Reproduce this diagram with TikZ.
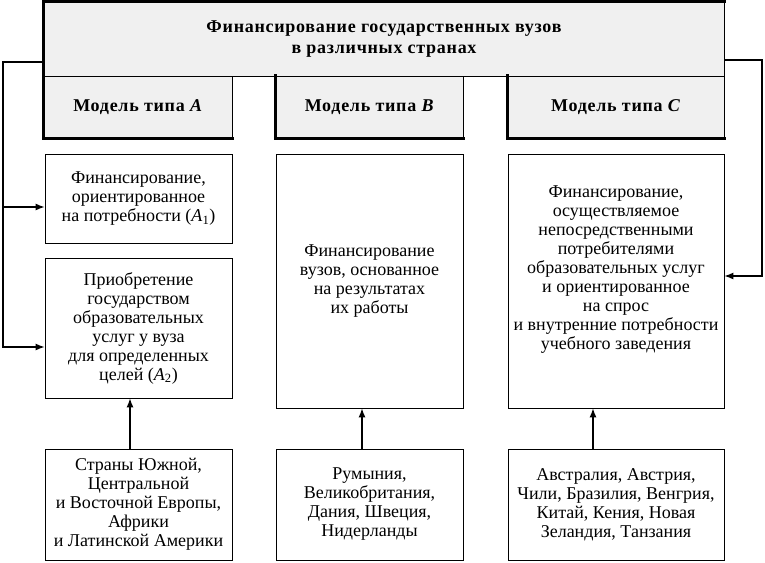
\documentclass[tikz,border=0pt]{standalone}
\usepackage{fontspec}
\setmainfont{Liberation Serif}
\newfontfamily\boldsp{Liberation Serif}[LetterSpace=4]
\usetikzlibrary{arrows.meta}
\definecolor{boxgray}{RGB}{240,240,240}
\begin{document}
\begin{tikzpicture}[x=1pt,y=-1pt,
  box/.style={draw, line width=0.8pt, inner sep=0pt, align=center,
    font=\fontsize{18}{19}\selectfont},
  head/.style={box, fill=boxgray, font=\boldsp\bfseries\fontsize{18}{21}\selectfont},
  txt/.style={inner sep=0pt, align=center, font=\fontsize{18}{19}\selectfont},
  heavy/.style={line width=2.6pt, line cap=rect},
  conn/.style={line width=1.2pt},
  arr/.style={conn, -{Latex[length=9pt,width=7pt]}}]
\useasboundingbox (0,0) rectangle (765,562);
% header
\node[head, minimum width=680pt, minimum height=74pt] (t) at (384,39)
  {Финансирование государственных вузов\\в различных странах};
\draw[heavy] (t.south west) -- (t.north west) -- (t.north east);
% models
\node[head, minimum width=188pt, minimum height=62pt] (mA) at (138,107) {Модель типа \textit{A}};
\node[head, minimum width=187pt, minimum height=62pt] (mB) at (369.5,107) {Модель типа \textit{B}};
\node[head, minimum width=216pt, minimum height=62pt] (mC) at (616,107) {Модель типа \textit{C}};
\foreach \m in {mA,mB,mC}
  \draw[heavy] (\m.north west) -- (\m.south west) -- (\m.south east);
% middle row
\node[box, minimum width=187pt, minimum height=89pt] (A1) at (138.5,198.5)
  {Финансирование,\\ориентированное\\на потребности (\textit{A}\textsubscript{1})};
\node[box, minimum width=187pt, minimum height=140pt] (A2) at (138.5,328)
  {Приобретение\\государством\\образовательных\\услуг у вуза\\для определенных\\целей (\textit{A}\textsubscript{2})};
\node[box, minimum width=187pt, minimum height=254pt] (B2) at (369.5,281)
  {Финансирование\\вузов, основанное\\на результатах\\их работы};
\node[box, minimum width=216pt, minimum height=254pt] (C2) at (616,281) {};
\node[txt] (C2t) at (616,270)
  {Финансирование,\\осуществляемое\\непосредственными\\потребителями\\образовательных услуг\\и ориентированное\\на спрос\\и внутренние потребности\\учебного заведения};
% bottom row
\node[box, minimum width=187pt, minimum height=111pt] (A3) at (138.5,504.5)
  {Страны Южной,\\Центральной\\и Восточной Европы,\\Африки\\и Латинской Америки};
\node[box, minimum width=187pt, minimum height=111pt] (B3) at (369.5,504.5)
  {Румыния,\\Великобритания,\\Дания, Швеция,\\Нидерланды};
\node[box, minimum width=216pt, minimum height=111pt] (C3) at (616,504.5)
  {Австралия, Австрия,\\Чили, Бразилия, Венгрия,\\Китай, Кения, Новая\\Зеландия, Танзания};
% vertical arrows
\draw[arr] ([xshift=-8.5pt]A3.north) -- ([xshift=-8.5pt]A2.south);
\draw[arr] ([xshift=-7.5pt]B3.north) -- ([xshift=-7.5pt]B2.south);
\draw[arr] ([xshift=-23pt]C3.north) -- ([xshift=-23pt]C2.south);
% left connector
\coordinate (L1) at (3,62);
\coordinate (L2) at (3,347);
\coordinate (L3) at (3,207);
\draw[arr] (t.west |- L1) -- (L1) -- (L2) -- (L2 -| A2.west);
\draw[arr] (L3) -- (L3 -| A1.west);
% right connector
\coordinate (R1) at (762,60);
\coordinate (R2) at (762,276);
\draw[arr] (t.east |- R1) -- (R1) -- (R2) -- (R2 -| C2.east);
\end{tikzpicture}
\end{document}
